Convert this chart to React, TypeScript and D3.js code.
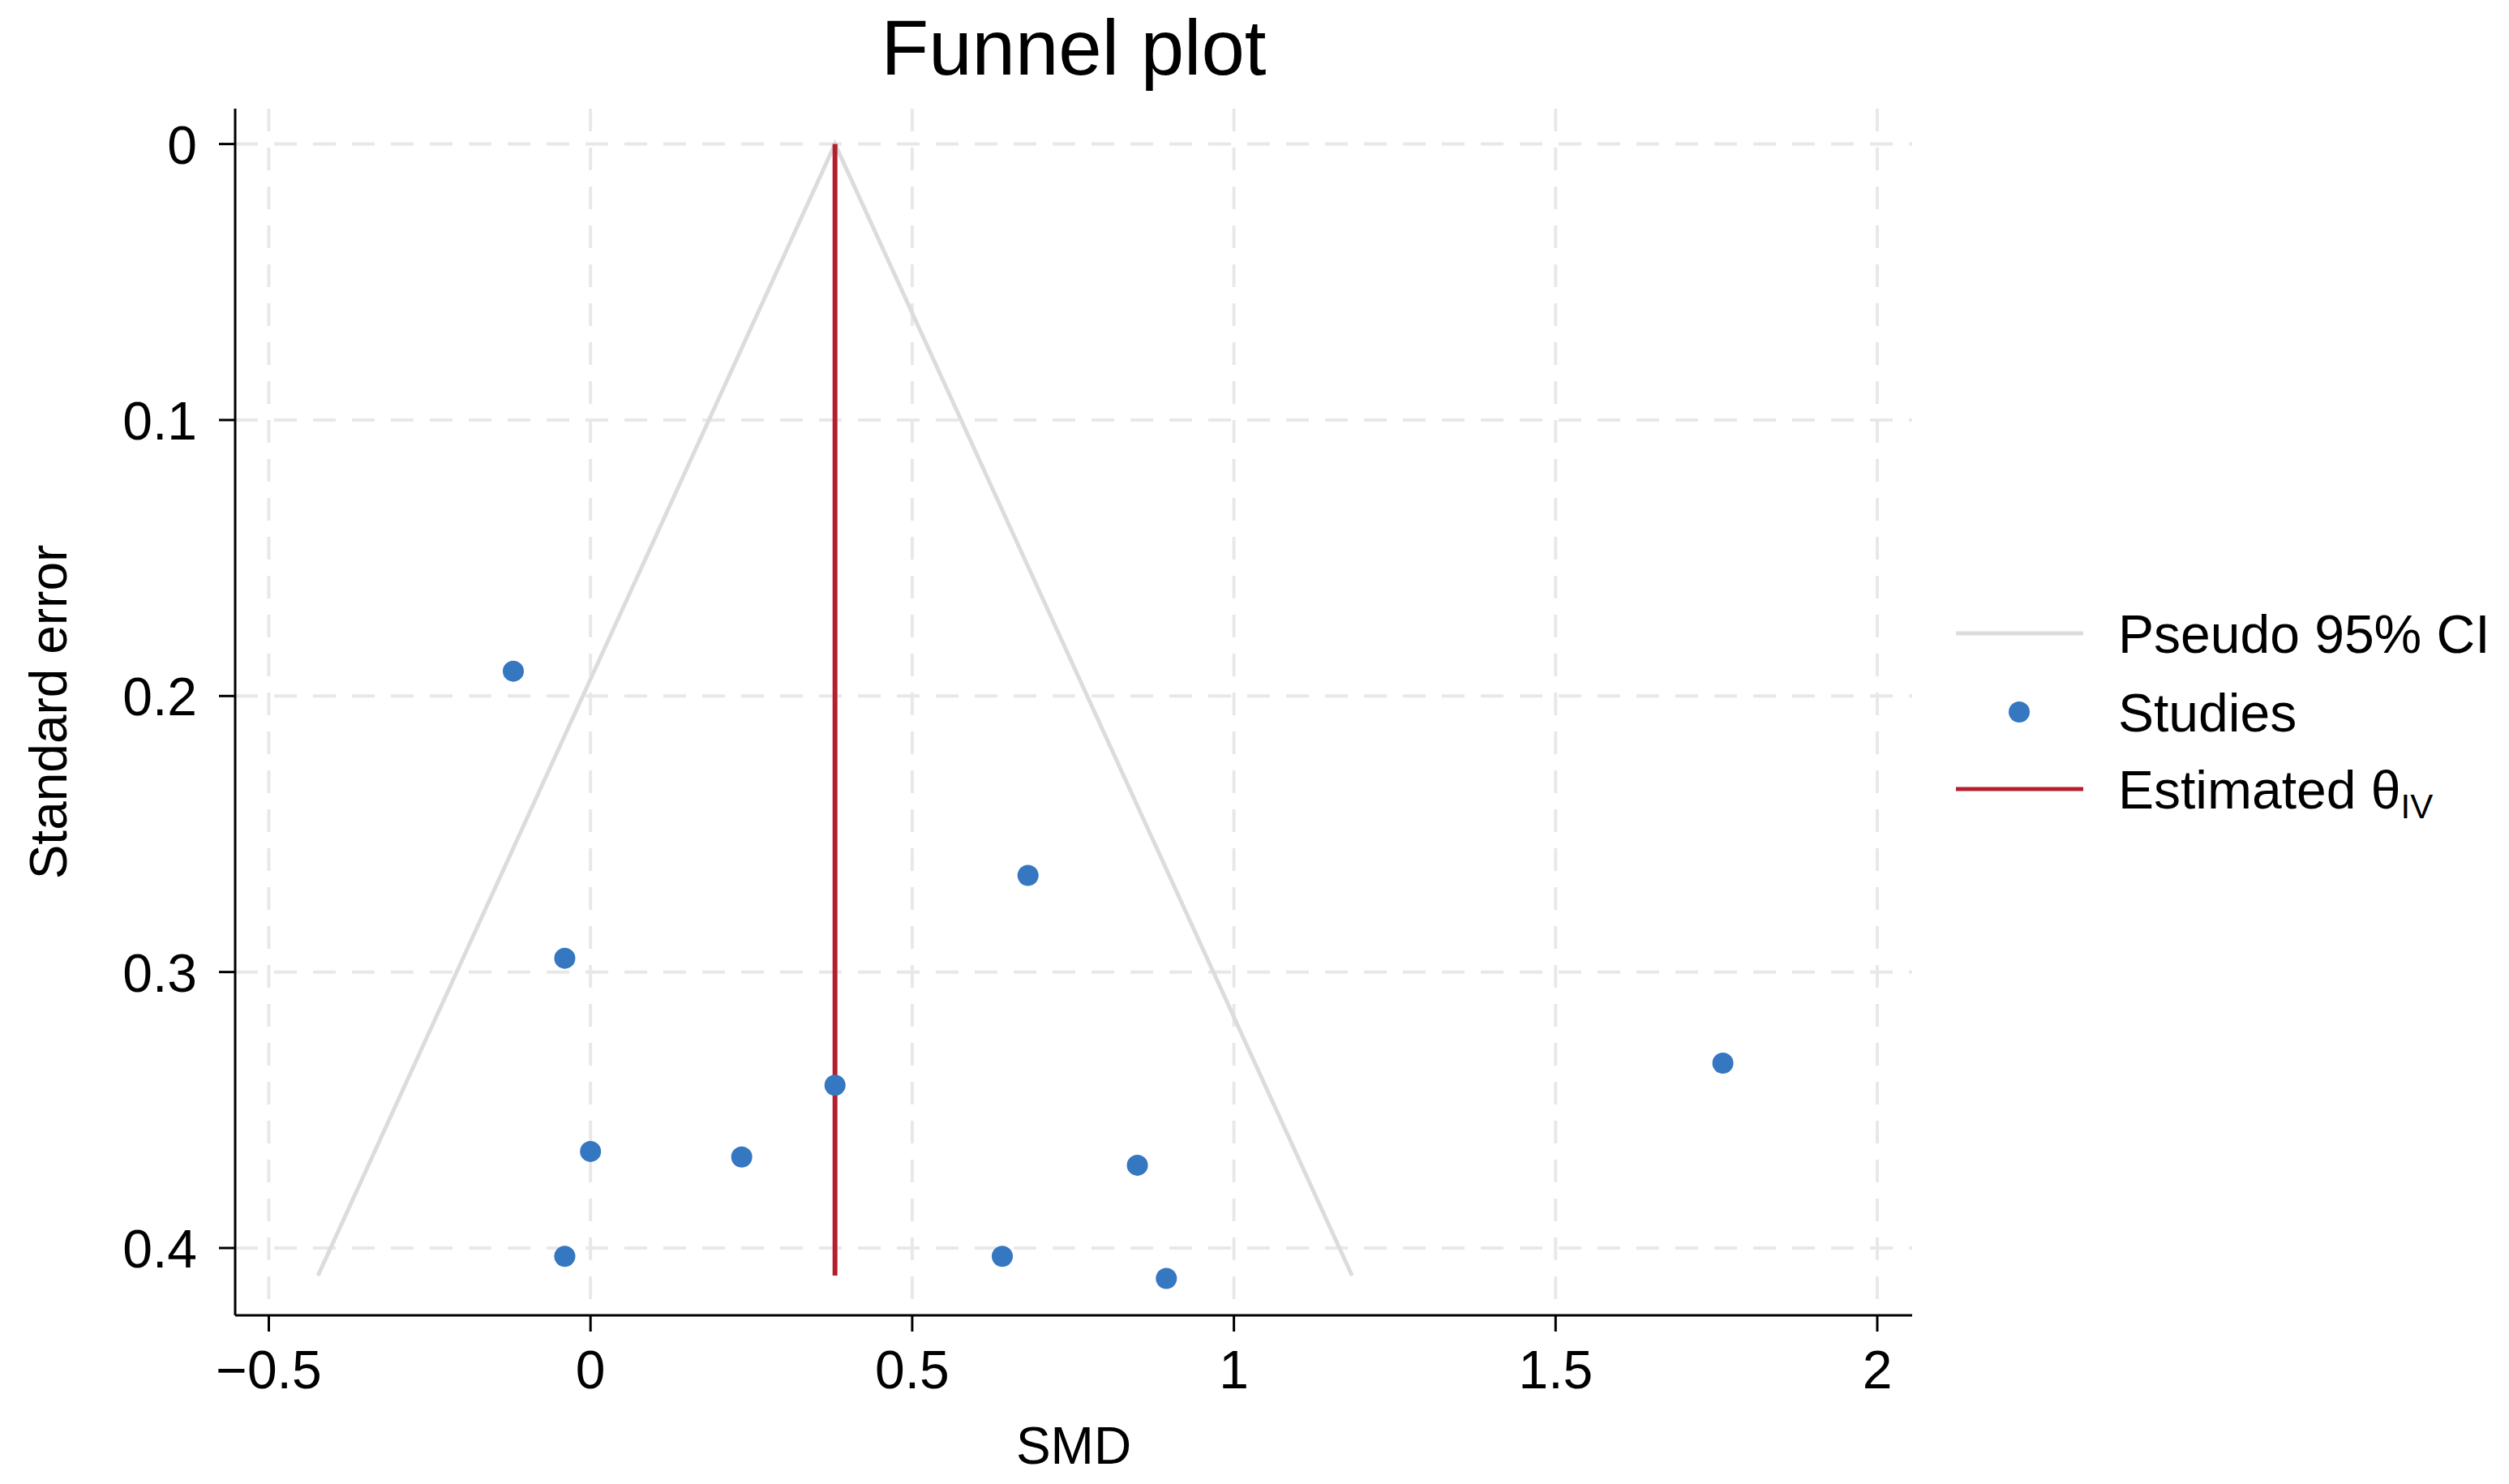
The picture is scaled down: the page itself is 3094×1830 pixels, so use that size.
import * as d3 from "d3";

const THETA = 0.38;
const SE_MAX = 0.41;
const studySMD = [-0.12, -0.04, 0.38, 0.0, 0.235, -0.04, 0.68, 0.85, 0.64, 0.895, 1.76];
const studySE = [0.191, 0.295, 0.341, 0.365, 0.367, 0.403, 0.265, 0.37, 0.403, 0.411, 0.333];
const xTicks = [-0.5, 0, 0.5, 1, 1.5, 2];
const yTicks = [0, 0.1, 0.2, 0.3, 0.4];
const legendItems = ["Pseudo 95% CI", "Studies", "Estimated θ"];

const W = 3094;
const H = 1830;
const FONT = "Liberation Sans, Arial, sans-serif";

export default function App() {
  const x = d3.scaleLinear().domain([-0.5, 2]).range([331.5, 2315]);
  const y = d3.scaleLinear().domain([0, 0.4]).range([177.6, 1539]);
  const left = 290, right = 2358, top = 134, bottom = 1622;
  const funnel = d3.line<[number, number]>().x((d) => x(d[0])).y((d) => y(d[1]));
  const fmt = (v: number) => (v < 0 ? "\u2212" + String(-v) : String(v));
  const legY = [781, 878, 973];

  return (
    <svg width={W} height={H} style={{ position: "absolute", left: 0, top: 0, background: "#fff" }} fontFamily={FONT}>
      {xTicks.map((t) => (
        <line key={"gx" + t} x1={x(t)} x2={x(t)} y1={top} y2={bottom} stroke="#e8e8e8" strokeWidth={4} strokeDasharray="28 20" />
      ))}
      {yTicks.map((t) => (
        <line key={"gy" + t} x1={left} x2={right} y1={y(t)} y2={y(t)} stroke="#e8e8e8" strokeWidth={4} strokeDasharray="28 20" />
      ))}
      <path
        d={funnel([[THETA - 1.96 * SE_MAX, SE_MAX], [THETA, 0], [THETA + 1.96 * SE_MAX, SE_MAX]]) || ""}
        fill="none" stroke="#dcdcdc" strokeWidth={5}
      />
      <line x1={x(THETA)} x2={x(THETA)} y1={y(0)} y2={y(SE_MAX)} stroke="#b41f2e" strokeWidth={6} />
      {studySMD.map((v, i) => (
        <circle key={i} cx={x(v)} cy={y(studySE[i])} r={13} fill="#3577c0" />
      ))}
      <line x1={left} x2={left} y1={top} y2={bottom} stroke="#000" strokeWidth={3} />
      <line x1={left} x2={right} y1={bottom} y2={bottom} stroke="#000" strokeWidth={3} />
      {xTicks.map((t) => (
        <g key={"tx" + t}>
          <line x1={x(t)} x2={x(t)} y1={bottom} y2={bottom + 20} stroke="#000" strokeWidth={3} />
          <text x={x(t)} y={1712} textAnchor="middle" fontSize={66}>{fmt(t)}</text>
        </g>
      ))}
      {yTicks.map((t) => (
        <g key={"ty" + t}>
          <line x1={left - 20} x2={left} y1={y(t)} y2={y(t)} stroke="#000" strokeWidth={3} />
          <text x={243} y={y(t) + 24} textAnchor="end" fontSize={66}>{String(t)}</text>
        </g>
      ))}
      <text x={1324} y={1805} textAnchor="middle" fontSize={64}>SMD</text>
      <text transform="translate(82,878) rotate(-90)" textAnchor="middle" fontSize={64}>Standard error</text>
      <text x={1324} y={92} textAnchor="middle" fontSize={96}>Funnel plot</text>
      <line x1={2412} x2={2569} y1={legY[0]} y2={legY[0]} stroke="#dcdcdc" strokeWidth={5} />
      <circle cx={2490} cy={legY[1]} r={13} fill="#3577c0" />
      <line x1={2412} x2={2569} y1={legY[2]} y2={legY[2]} stroke="#b41f2e" strokeWidth={5} />
      {legendItems.map((s, i) => (
        <text key={s} x={2612} y={legY[i] + 24} fontSize={66}>
          {s}
          {i === 2 && <tspan fontSize={42} dy={12}>IV</tspan>}
        </text>
      ))}
    </svg>
  );
}
